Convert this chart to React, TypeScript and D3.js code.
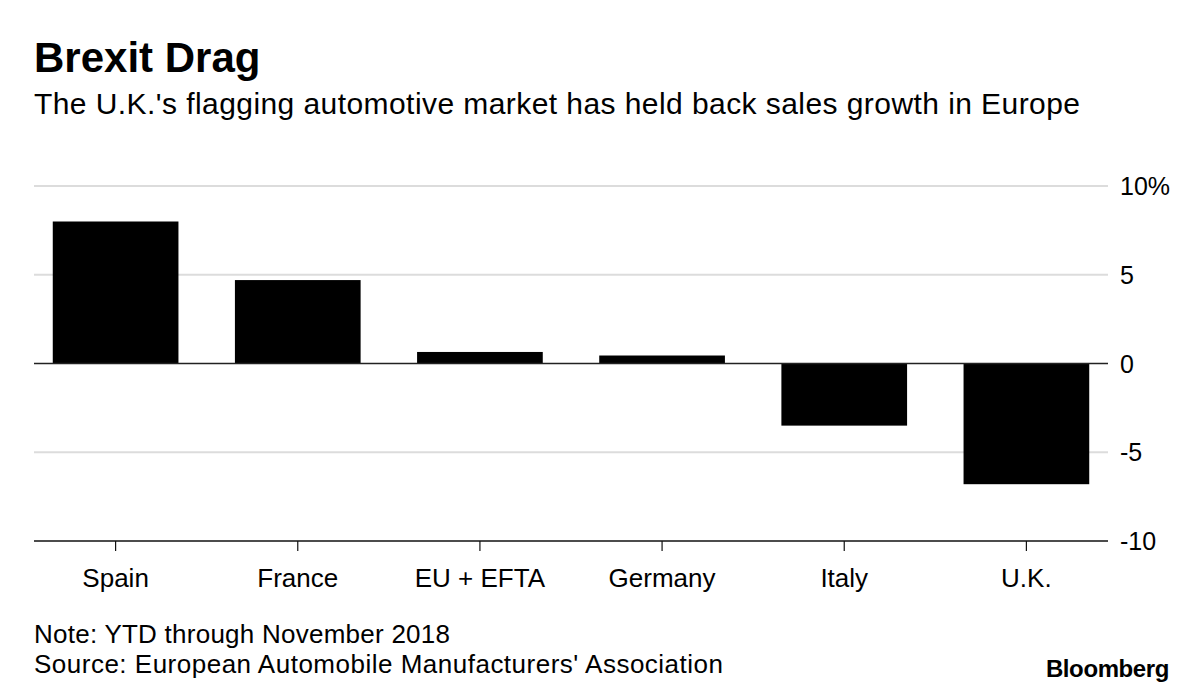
import React from "react";
import * as d3 from "d3";

const categories = ["Spain", "France", "EU + EFTA", "Germany", "Italy", "U.K."];
const growth = [8.0, 4.7, 0.65, 0.45, -3.5, -6.8];
const yTicks = [10, 5, 0, -5, -10];
const yTickLabels = ["10%", "5", "0", "-5", "-10"];

const title = "Brexit Drag";
const subtitle = "The U.K.'s flagging automotive market has held back sales growth in Europe";
const note = "Note: YTD through November 2018";
const source = "Source: European Automobile Manufacturers' Association";

const W = 1200;
const H = 696;
const left = 34;
const right = 1108;
const top = 186;
const bottom = 541;
const font = "'Liberation Sans', Arial, Helvetica, sans-serif";

export default function App() {
  const x = d3
    .scaleBand<string>()
    .domain(categories)
    .range([left, right])
    .paddingInner(0.31)
    .paddingOuter(0.103);
  const y = d3.scaleLinear().domain([-10, 10]).range([bottom, top]);

  return (
    <svg
      width={W}
      height={H}
      style={{ position: "absolute", left: 0, top: 0, background: "#fff" }}
      fontFamily={font}
    >
      <rect width={W} height={H} fill="#fff" />
      <text x={34} y={72} fontSize={42} fontWeight="bold" fill="#000">
        {title}
      </text>
      <text x={34} y={114} fontSize={30} fill="#000" textLength={1046} lengthAdjust="spacing">
        {subtitle}
      </text>

      {yTicks.map((t, i) => (
        <g key={t}>
          {t !== 0 && t !== -10 && (
            <line x1={left} x2={right} y1={y(t)} y2={y(t)} stroke="#dcdcdc" strokeWidth={2} />
          )}
          <text x={1120} y={y(t)} dy="0.36em" fontSize={25} fill="#000">
            {yTickLabels[i]}
          </text>
        </g>
      ))}

      {categories.map((c, i) => {
        const v = growth[i];
        const y0 = y(Math.max(0, v));
        const y1 = y(Math.min(0, v));
        return (
          <rect
            key={c}
            x={x(c)}
            y={y0}
            width={x.bandwidth()}
            height={y1 - y0}
            fill="#000"
          />
        );
      })}

      <line x1={left} x2={right} y1={y(0)} y2={y(0)} stroke="#222" strokeWidth={1.5} />
      <line x1={left} x2={right} y1={y(-10)} y2={y(-10)} stroke="#111" strokeWidth={1.5} />

      {categories.map((c) => {
        const cx = (x(c) as number) + x.bandwidth() / 2;
        return (
          <g key={c}>
            <line x1={cx} x2={cx} y1={bottom} y2={bottom + 10} stroke="#111" strokeWidth={1.2} />
            <text x={cx} y={587} textAnchor="middle" fontSize={26} fill="#000">
              {c}
            </text>
          </g>
        );
      })}

      <text x={34} y={643} fontSize={26} fill="#000" textLength={416} lengthAdjust="spacing">
        {note}
      </text>
      <text x={34} y={673} fontSize={26} fill="#000" textLength={689} lengthAdjust="spacing">
        {source}
      </text>
      <text x={1169} y={677} textAnchor="end" fontSize={24} fontWeight="bold" fill="#000" letterSpacing={-0.4}>
        Bloomberg
      </text>
    </svg>
  );
}
